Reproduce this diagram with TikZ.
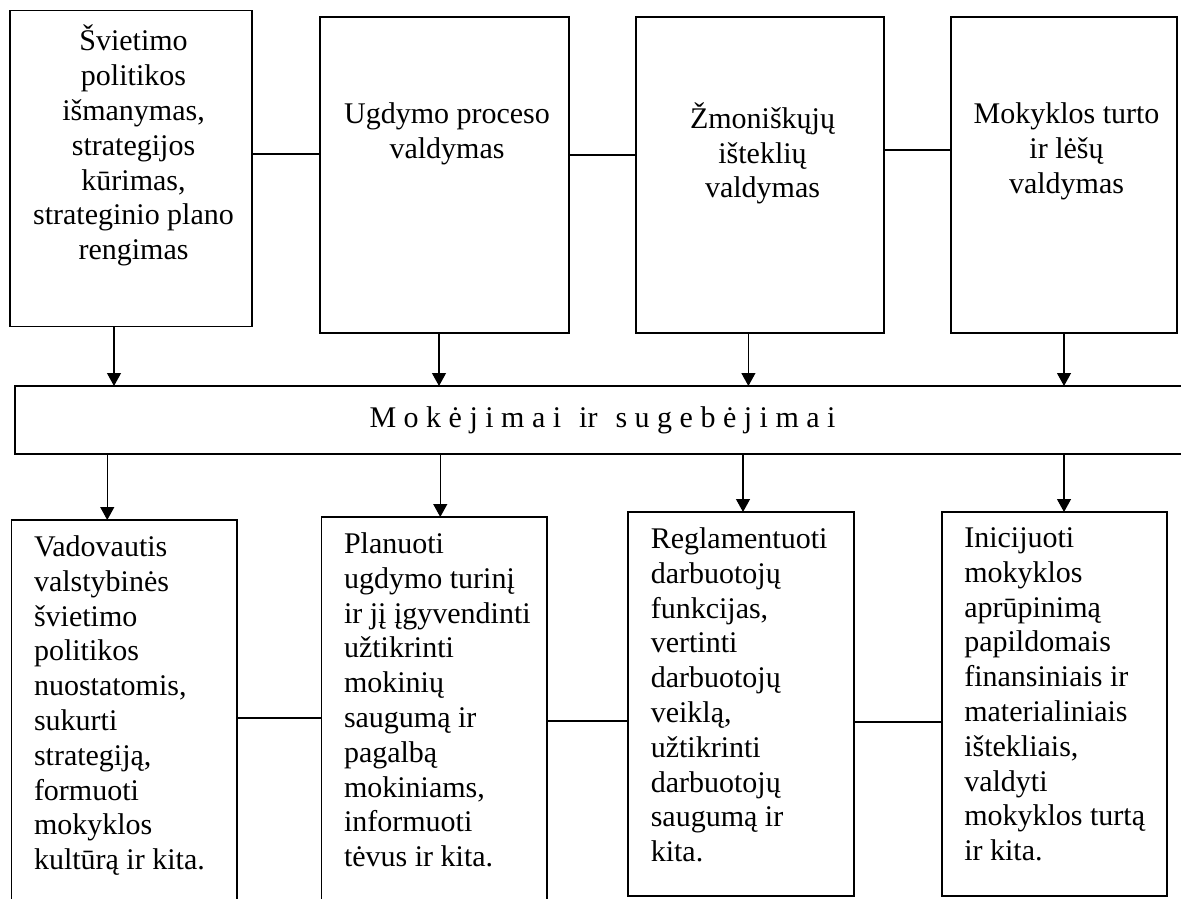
\documentclass[tikz,border=0pt]{standalone}
\usepackage{fontspec}
\setmainfont{Liberation Serif}
\usepackage{tikz}
\usetikzlibrary{positioning, arrows.meta}

\tikzset{
    topbox/.style={draw, line width=0.8pt, inner sep=0pt, outer sep=0pt, minimum height=158pt},
    botbox/.style={draw, line width=0.8pt, inner sep=0pt, outer sep=0pt, minimum width=112.75pt},
    midbox/.style={draw, line width=0.8pt, inner sep=0pt, outer sep=0pt, minimum width=587.5pt, minimum height=34pt,
        font=\fontsize{15pt}{17.4pt}\selectfont},
    toptxt/.style={align=center, inner sep=0pt, outer sep=0pt, font=\fontsize{15pt}{17.4pt}\selectfont,
        execute at begin node=\strut},
    bottxt/.style={align=left, inner sep=0pt, outer sep=0pt, font=\fontsize{15pt}{17.4pt}\selectfont,
        execute at begin node=\strut},
    link/.style={line width=0.6pt},
    arr/.style={line width=0.6pt, -{Triangle[length=6.5pt, width=7pt]}}
}

\begin{document}
\begin{tikzpicture}[x=0.5pt, y=-0.5pt]
        \useasboundingbox (0,0) rectangle (1181,898);
        \clip (0,0) rectangle (1181,898);

        % top row
        \node[topbox, minimum width=121pt] (polit) at (131,168.5) {};
        \node[topbox, minimum width=124.5pt, right=34pt of polit, yshift=-3.25pt] (ugd) {};
        \node[topbox, minimum width=124pt, right=33.5pt of ugd] (zmon) {};
        \node[topbox, minimum width=113pt, right=33.5pt of zmon] (turto) {};

        \node[toptxt, below=7.3pt of polit.north, xshift=1.25pt] (polit-txt)
            {Švietimo\\politikos\\išmanymas,\\strategijos\\kūrimas,\\strateginio plano\\rengimas};
        \node[toptxt, below=42.8pt of ugd.north, xshift=1.25pt] (ugd-txt)
            {Ugdymo proceso\\valdymas};
        \node[toptxt, below=42.8pt of zmon.north, xshift=1.25pt] (zmon-txt)
            {Žmoniškųjų\\išteklių\\valdymas};
        \node[toptxt, below=42.8pt of turto.north, xshift=1.25pt] (turto-txt)
            {Mokyklos turto\\ir lėšų\\valdymas};

        \coordinate (t1) at ([yshift=7.25pt]polit.east);
        \coordinate (t2) at ([yshift=10pt]ugd.east);
        \coordinate (t3) at ([yshift=12.5pt]zmon.east);
        \draw[link] (t1) -- (t1 -| ugd.west);
        \draw[link] (t2) -- (t2 -| zmon.west);
        \draw[link] (t3) -- (t3 -| turto.west);

        % middle bar
        \node[midbox] (mok) at (602.5,420)
            {M o k ė j i m a i\hspace{9pt}ir\hspace{9pt}s u g e b ė j i m a i};

        \coordinate (a1) at ([xshift=-8.5pt]polit.south);
        \coordinate (a2) at ([xshift=-2.75pt]ugd.south);
        \coordinate (a3) at ([xshift=-5.8pt]zmon.south);
        \coordinate (a4) at (turto.south);
        \draw[arr] (a1) -- (a1 |- mok.north);
        \draw[arr] (a2) -- (a2 |- mok.north);
        \draw[arr] (a3) -- (a3 |- mok.north);
        \draw[arr] (a4) -- (a4 |- mok.north);

        % bottom row
        \node[botbox, minimum height=200pt] (vad) at (124.25,720) {};
        \node[botbox, minimum height=201.5pt, right=42.25pt of vad, yshift=0.75pt] (plan) {};
        \node[botbox, minimum height=192pt] (regl) at (741,704) {};
        \node[botbox, minimum height=192pt, right=44pt of regl] (inic) {};

        \node[bottxt, below right=7.8pt and 11.25pt of vad.north west] (vad-txt)
            {Vadovautis\\valstybinės\\švietimo\\politikos\\nuostatomis,\\sukurti\\strategiją,\\formuoti\\mokyklos\\kultūrą ir kita.};
        \node[bottxt, below right=7.8pt and 11.25pt of plan.north west] (plan-txt)
            {Planuoti\\ugdymo turinį\\ir jį įgyvendinti\\užtikrinti\\mokinių\\saugumą ir\\pagalbą\\mokiniams,\\informuoti\\tėvus ir kita.};
        \node[bottxt, below right=7.8pt and 11.25pt of regl.north west] (regl-txt)
            {Reglamentuoti\\darbuotojų\\funkcijas,\\vertinti\\darbuotojų\\veiklą,\\užtikrinti\\darbuotojų\\saugumą ir\\kita.};
        \node[bottxt, below right=7.8pt and 11.25pt of inic.north west] (inic-txt)
            {Inicijuoti\\mokyklos\\aprūpinimą\\papildomais\\finansiniais ir\\materialiniais\\ištekliais,\\valdyti\\mokyklos turtą\\ir kita.};

        \coordinate (b1) at ([xshift=-8.5pt]vad.north);
        \coordinate (b2) at ([xshift=3pt]plan.north);
        \coordinate (b3) at ([xshift=1pt]regl.north);
        \coordinate (b4) at ([xshift=4.75pt]inic.north);
        \draw[arr] (b1 |- mok.south) -- (b1);
        \draw[arr] (b2 |- mok.south) -- (b2);
        \draw[arr] (b3 |- mok.south) -- (b3);
        \draw[arr] (b4 |- mok.south) -- (b4);

        \coordinate (l1) at ([yshift=1pt]vad.east);
        \coordinate (l2) at ([yshift=-1.25pt]plan.east);
        \coordinate (l3) at ([yshift=-9pt]regl.east);
        \draw[link] (l1) -- (l1 -| plan.west);
        \draw[link] (l2) -- (l2 -| regl.west);
        \draw[link] (l3) -- (l3 -| inic.west);
    \end{tikzpicture}
\end{document}
